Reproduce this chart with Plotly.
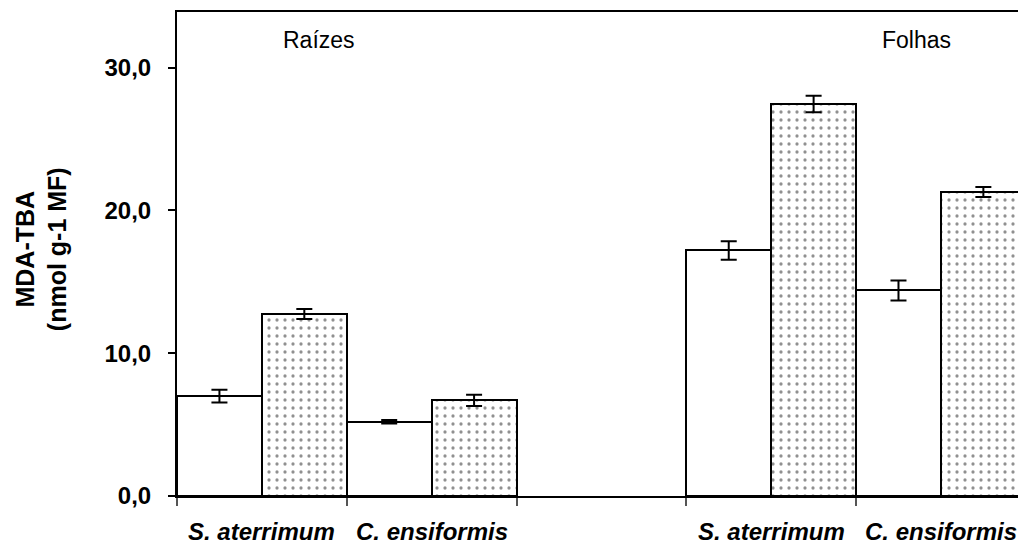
import plotly.graph_objects as go

# Data
positions = [0, 1, 3, 4]
species_labels = ["S. aterrimum", "C. ensiformis", "S. aterrimum", "C. ensiformis"]
group_labels = ["Raízes", "Folhas"]
white_values = [7.0, 5.2, 17.2, 14.4]
white_errors = [0.45, 0.12, 0.65, 0.70]
dotted_values = [12.75, 6.7, 27.45, 21.3]
dotted_errors = [0.35, 0.4, 0.58, 0.35]
y_ticks = [0, 10, 20, 30]

FONT = "Liberation Sans, Arial, sans-serif"
FS = 24

fig = go.Figure()
fig.add_trace(go.Bar(
    x=positions, y=white_values,
    marker=dict(color="white", line=dict(color="black", width=2)),
    error_y=dict(type="data", array=white_errors, color="black", thickness=2, width=8),
    showlegend=False,
))
fig.add_trace(go.Bar(
    x=positions, y=dotted_values,
    marker=dict(color="white", line=dict(color="black", width=2),
                pattern=dict(shape=".", fgcolor="#222222", bgcolor="white", size=8, solidity=0.13)),
    error_y=dict(type="data", array=dotted_errors, color="black", thickness=2, width=8),
    showlegend=False,
))

annotations = []
for p, lab in zip(positions, species_labels):
    annotations.append(dict(
        x=p, xref="x", y=0, yref="paper", yshift=-35, yanchor="middle",
        text=lab, showarrow=False,
        font=dict(family=FONT, size=FS, color="black", weight="bold", style="italic"),
    ))
grp_y = 33.9 - (40 - 12) / 14.277
annotations.append(dict(x=(319 - 177) / 169.75 - 0.5, xref="x", y=grp_y, yref="y",
                        text=group_labels[0], showarrow=False,
                        font=dict(family=FONT, size=23, color="black")))
annotations.append(dict(x=(916 - 177) / 169.75 - 0.5, xref="x", y=grp_y, yref="y",
                        text=group_labels[1], showarrow=False,
                        font=dict(family=FONT, size=23, color="black")))
annotations.append(dict(
    x=0, xref="paper", xshift=-136, y=0.510, yref="paper",
    text="MDA-TBA<br>(nmol g-1 MF)", textangle=-90, showarrow=False,
    xanchor="center", yanchor="middle",
    font=dict(family=FONT, size=25, color="black", weight="bold"),
))

fig.update_layout(
    width=1018, height=544,
    margin=dict(l=177, r=0, t=12, b=48),
    paper_bgcolor="white", plot_bgcolor="white",
    barmode="group", bargap=0, bargroupgap=0,
    separators=",.",
    font=dict(family=FONT, size=FS, color="black"),
    annotations=annotations,
    xaxis=dict(
        range=[-0.5, 4.454], showgrid=False, zeroline=False,
        showline=True, linecolor="black", linewidth=2, mirror=True,
        tickmode="array", tickvals=[-0.5, 0.5, 1.5, 2.5, 3.5, 4.5],
        ticks="outside", ticklen=8, tickwidth=1.5, tickcolor="#555555",
        showticklabels=False,
    ),
    yaxis=dict(
        range=[0, 33.9], showgrid=False, zeroline=False,
        showline=True, linecolor="black", linewidth=2,
        tickmode="array", tickvals=y_ticks, tickformat=".1f",
        ticks="outside", ticklen=7, tickwidth=1.5, tickcolor="black",
        ticklabelstandoff=12,
        tickfont=dict(family=FONT, size=FS, color="black", weight="bold"),
    ),
)

fig.write_html("out.html", config={"displayModeBar": False},
               post_script="document.body.style.margin='0px';")
